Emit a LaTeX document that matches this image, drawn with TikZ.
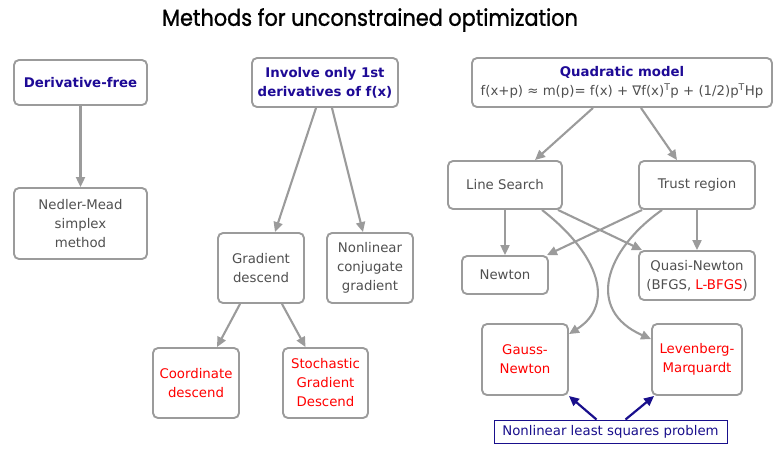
\documentclass[tikz,border=0pt]{standalone}
\usepackage{fontspec}
\usepackage{graphicx}
\setmainfont{DejaVu Sans}
\newfontfamily\titlefont{Poppins}[FakeBold=1.2]
\usetikzlibrary{arrows.meta,calc}
\definecolor{boxgray}{RGB}{155,155,155}
\definecolor{txtgray}{RGB}{80,80,80}
\definecolor{hblue}{RGB}{30,10,150}
\definecolor{nblue}{RGB}{25,15,140}
\definecolor{lred}{RGB}{255,0,0}
\begin{document}
\begin{tikzpicture}[x=1pt,y=-1pt,
  box/.style={draw=boxgray,line width=1.9pt,rounded corners=5pt,fill=white,
    text=txtgray,align=center,inner sep=0pt,
    font=\fontsize{13.3}{19}\selectfont},
  head/.style={text=hblue,font=\fontsize{13.3}{19}\selectfont\bfseries},
  redt/.style={text=lred},
  arr/.style={draw=boxgray,line width=2.1pt,-{Triangle[length=10pt,width=9pt]}},
  barr/.style={draw=nblue,line width=2.2pt,-{Triangle[length=10pt,width=9pt]}}]
\useasboundingbox (0,0) rectangle (784,459);
\node[font=\titlefont\fontsize{23}{26}\selectfont] (title) at (370,20) {\scalebox{0.905}[1]{Methods for unconstrained optimization}};

\node[box,head,minimum width=133pt,minimum height=45pt] (df) at (80.5,82.5) {Derivative-free};
\node[box,minimum width=133pt,minimum height=71pt] (nm) at (80.5,223.5) {Nedler-Mead\\simplex\\method};

\node[box,head,minimum width=146pt,minimum height=49pt] (inv) at (325,82.5) {Involve only 1st\\derivatives of f(x)};
\node[box,minimum width=86pt,minimum height=70pt] (gd) at (261,268) {Gradient\\descend};
\node[box,minimum width=86pt,minimum height=70pt] (nc) at (370,268) {Nonlinear\\conjugate\\gradient};
\node[box,redt,minimum width=86pt,minimum height=70pt] (cd) at (196,383) {Coordinate\\descend};
\node[box,redt,minimum width=85pt,minimum height=70pt] (sgd) at (325.5,383) {Stochastic\\Gradient\\Descend};

\node[box,minimum width=300pt,minimum height=49pt] (qm) at (622,82.5) {{\color{hblue}\bfseries Quadratic model}\\f(x+p) ≈ m(p)= f(x) + ∇f(x)\textsuperscript{T}p + (1/2)p\textsuperscript{T}Hp};
\node[box,minimum width=114pt,minimum height=48pt] (ls) at (505,185) {Line Search};
\node[box,minimum width=116pt,minimum height=48pt] (tr) at (697,185) {Trust region};
\node[box,minimum width=86pt,minimum height=38pt] (nw) at (505,275) {Newton};
\node[box,minimum width=116pt,minimum height=49pt] (qn) at (697,275.5) {Quasi-Newton\\(BFGS, {\color{lred}L-BFGS})};
\node[box,redt,minimum width=86pt,minimum height=71pt] (gn) at (525,359.5) {Gauss-\\Newton};
\node[box,redt,minimum width=90pt,minimum height=71pt] (lm) at (697,359.5) {Levenberg-\\Marquardt};
\node[draw=nblue,line width=1pt,text=nblue,fill=white,inner sep=0pt,minimum width=233pt,minimum height=23pt,font=\fontsize{13.3}{15}\selectfont] (nls) at (610.5,431.5) {Nonlinear least squares problem};

\draw[arr] (df.south) -- (nm.north);
\draw[arr] ([xshift=-9pt]inv.south) -- ([xshift=14pt]gd.north);
\draw[arr] ([xshift=7pt]inv.south) -- ([xshift=-7pt]nc.north);
\draw[arr] ([xshift=-21pt]gd.south) -- ([xshift=21pt]cd.north);
\draw[arr] ([xshift=21pt]gd.south) -- ([xshift=-20pt]sgd.north);

\draw[arr] ([xshift=-29pt]qm.south) -- ([xshift=30pt]ls.north);
\draw[arr] ([xshift=19pt]qm.south) -- ([xshift=-20pt]tr.north);
\draw[arr] (ls.south) -- (nw.north);
\draw[arr] ([xshift=53pt]ls.south) -- ([xshift=4pt]qn.north west);
\draw[arr] ([xshift=4pt]tr.south west) -- ([xshift=-2pt]nw.north east);
\draw[arr] (tr.south) -- (qn.north);
\draw[arr] ([xshift=37pt]ls.south) .. controls (600,255) and (615,305) .. ([yshift=-11pt]gn.north east);
\draw[arr] ([xshift=24pt]tr.south west) .. controls (605,250) and (585,310) .. ([yshift=-16pt]lm.north west);

\draw[barr] ([xshift=-14pt]nls.north) -- (gn.south east);
\draw[barr] ([xshift=15pt]nls.north) -- ([xshift=3pt]lm.south west);
\end{tikzpicture}
\end{document}
